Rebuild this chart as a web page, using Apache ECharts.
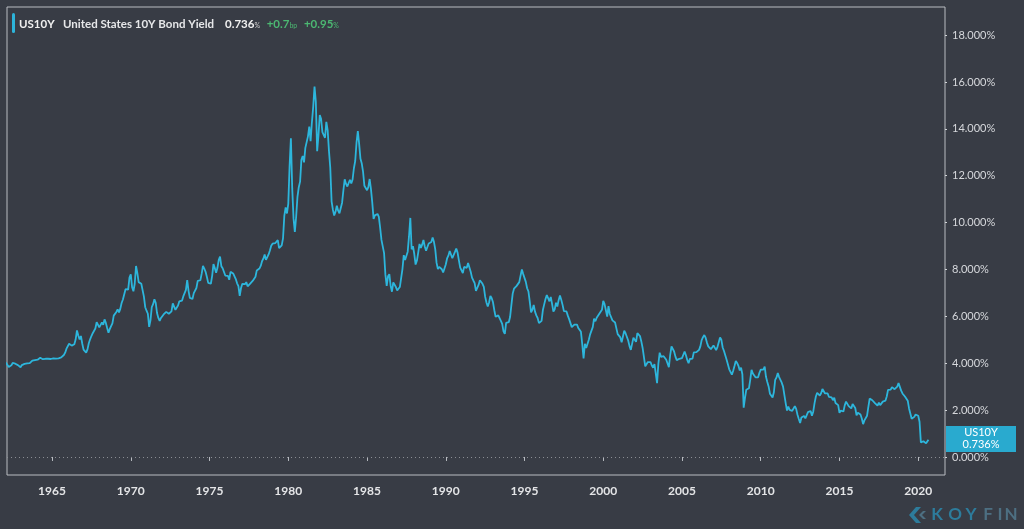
<!DOCTYPE html>
<html>
<head>
<meta charset="utf-8">
<script src="https://cdn.jsdelivr.net/npm/echarts@6/dist/echarts.min.js"></script>
<style>
html,body{margin:0;padding:0;background:#383c45;}
#c{width:1024px;height:529px;}
</style>
</head>
<body>
<div id="c"></div>
<script>
// Monthly US 10Y yields (%), one row per year starting 1962
const startYear = 1962;
const monthlyYield = [
[4.08,4.04,3.93,3.84,3.87,3.91,4.01,3.98,3.98,3.93,3.92,3.86],
[3.83,3.92,3.93,3.97,3.93,3.99,4.02,4.00,4.08,4.11,4.12,4.13],
[4.17,4.15,4.22,4.23,4.20,4.17,4.19,4.19,4.20,4.19,4.15,4.18],
[4.19,4.21,4.21,4.20,4.21,4.21,4.20,4.25,4.29,4.35,4.45,4.62],
[4.61,4.83,4.87,4.75,4.78,4.81,5.02,5.40,5.18,5.01,5.16,4.84],
[4.58,4.63,4.45,4.59,4.85,5.02,5.16,5.28,5.30,5.48,5.75,5.70],
[5.53,5.56,5.74,5.64,5.87,5.72,5.50,5.30,5.46,5.58,5.70,6.03],
[6.04,6.19,6.30,6.17,6.32,6.57,6.72,6.69,7.16,7.10,7.14,7.65],
[7.79,7.24,7.07,7.39,8.15,7.84,7.46,7.53,7.39,7.33,6.84,6.39],
[6.24,6.11,5.55,5.83,6.39,6.52,6.73,6.58,6.14,5.93,5.81,5.93],
[5.95,6.08,6.07,6.19,6.13,6.11,6.11,6.21,6.55,6.48,6.28,6.36],
[6.46,6.64,6.71,6.67,6.85,6.90,7.13,7.55,7.09,6.79,6.73,6.74],
[6.99,6.96,7.21,7.51,7.58,7.54,7.81,8.15,8.04,7.90,7.68,7.43],
[7.50,7.39,7.73,8.23,8.06,7.86,8.06,8.40,8.55,8.14,8.05,8.00],
[7.74,7.79,7.73,7.56,7.90,7.86,7.83,7.77,7.59,7.41,7.29,6.87],
[7.21,7.39,7.46,7.37,7.46,7.28,7.33,7.40,7.34,7.52,7.58,7.69],
[7.96,8.03,8.04,8.15,8.35,8.46,8.64,8.41,8.42,8.64,8.81,9.01],
[9.10,9.10,9.12,9.18,9.25,8.91,8.95,9.03,9.33,10.30,10.65,10.39],
[10.80,12.41,13.60,11.47,10.18,9.60,10.25,11.10,11.51,11.75,12.68,12.84],
[12.57,13.19,13.12,13.68,14.10,13.47,14.28,14.94,15.80,15.15,13.05,13.72],
[14.59,14.43,13.86,13.87,13.62,14.30,13.95,13.06,12.34,10.91,10.55,10.30],
[10.46,10.72,10.51,10.40,10.38,10.85,11.38,11.85,11.65,11.54,11.69,11.83],
[11.67,11.84,12.32,12.63,13.41,13.90,13.36,12.72,12.52,12.16,11.57,11.50],
[11.38,11.51,11.86,11.43,10.85,10.16,10.31,10.33,10.37,10.24,9.78,9.26],
[9.19,8.70,7.78,7.30,7.71,7.80,7.30,7.05,7.45,7.43,7.25,7.11],
[7.08,7.25,7.25,8.02,8.61,8.40,8.45,8.76,9.42,10.20,8.86,8.99],
[8.67,8.21,8.37,8.72,9.09,8.92,9.06,9.26,8.98,8.80,8.96,9.11],
[9.09,9.17,9.36,9.18,8.86,8.28,8.02,8.11,8.19,8.01,7.87,7.84],
[8.21,8.47,8.59,8.79,8.76,8.48,8.47,8.75,8.89,8.72,8.39,8.08],
[8.09,7.85,8.11,8.04,8.07,8.28,8.27,7.90,7.65,7.53,7.42,7.09],
[7.03,7.34,7.54,7.48,7.39,7.26,6.84,6.59,6.42,6.59,6.87,6.77],
[6.60,6.26,5.98,5.97,6.04,5.96,5.81,5.68,5.36,5.25,5.72,5.77],
[5.75,5.97,6.48,6.97,7.18,7.10,7.30,7.24,7.46,7.74,8.00,7.81],
[7.78,7.47,7.20,7.06,6.63,6.17,6.28,6.49,6.20,6.04,5.93,5.71],
[5.65,5.81,6.27,6.51,6.74,6.91,6.87,6.64,6.83,6.53,6.20,6.30],
[6.58,6.42,6.69,6.89,6.71,6.49,6.22,6.30,6.21,6.03,5.88,5.81],
[5.54,5.57,5.65,5.64,5.65,5.50,5.46,5.34,4.81,4.20,4.83,4.65],
[4.72,5.00,5.23,5.18,5.54,5.90,5.79,5.94,5.92,6.11,6.03,6.28],
[6.66,6.52,6.26,5.99,6.44,6.10,6.05,5.83,5.80,5.74,5.72,5.24],
[5.16,5.10,4.89,5.14,5.39,5.28,5.24,4.97,4.73,4.57,4.65,5.09],
[5.04,4.91,5.28,5.21,5.16,4.93,4.65,4.26,3.87,3.94,4.05,4.03],
[4.05,3.90,3.81,3.96,3.57,3.15,3.98,4.45,4.27,4.29,4.30,4.27],
[4.15,4.08,3.83,4.35,4.72,4.73,4.50,4.28,4.13,4.10,4.19,4.23],
[4.22,4.17,4.50,4.34,4.14,4.00,4.18,4.26,4.20,4.46,4.54,4.47],
[4.42,4.57,4.72,4.99,5.11,5.20,5.09,4.88,4.72,4.73,4.60,4.56],
[4.76,4.72,4.56,4.69,4.75,5.10,5.00,4.67,4.52,4.53,4.15,4.10],
[3.74,3.74,3.51,3.68,3.88,4.10,4.01,3.89,3.69,3.81,3.53,2.10],
[2.52,2.87,2.82,2.93,3.29,3.72,3.56,3.59,3.40,3.39,3.40,3.59],
[3.73,3.69,3.73,3.85,3.42,3.20,3.01,2.70,2.65,2.54,2.76,3.29],
[3.39,3.58,3.41,3.46,3.17,3.00,3.00,2.30,1.98,2.15,2.01,1.98],
[1.97,1.97,2.17,2.05,1.80,1.62,1.45,1.68,1.72,1.75,1.65,1.72],
[1.91,1.98,1.96,1.76,1.93,2.30,2.58,2.74,2.81,2.62,2.72,2.90],
[2.86,2.71,2.72,2.71,2.56,2.60,2.54,2.42,2.53,2.30,2.33,2.21],
[1.88,1.98,2.04,1.94,2.20,2.36,2.32,2.17,2.17,2.07,2.26,2.24],
[2.09,1.78,1.89,1.81,1.81,1.64,1.40,1.56,1.63,1.76,2.14,2.49],
[2.43,2.42,2.48,2.30,2.30,2.19,2.32,2.21,2.20,2.36,2.35,2.40],
[2.58,2.86,2.84,2.87,2.98,2.91,2.89,2.89,3.00,3.15,3.12,2.83],
[2.71,2.68,2.57,2.53,2.40,2.07,2.06,1.63,1.70,1.71,1.81,1.86],
[1.76,1.50,0.62,0.66,0.67,0.70,0.58,0.60]
];
const lastPoint = [2020.65, 0.736];
const yTicks = [0,2,4,6,8,10,12,14,16,18];
const xTicks = [1965,1970,1975,1980,1985,1990,1995,2000,2005,2010,2015,2020];
const tickerName = 'US10Y';
const seriesTitle = 'United States 10Y Bond Yield';
const lastValue = '0.736';
const changeBp = '+0.7';
const changePct = '+0.95';

const data = [];
monthlyYield.forEach((row, i) => {
  row.forEach((v, m) => data.push([startYear + i + m / 12, v]));
});
data.push(lastPoint);

const chart = echarts.init(document.getElementById('c'));
const axisColor = '#b9bcc2';
const option = {
  backgroundColor: '#383c45',
  animation: false,
  grid: {left: 7, right: 79, top: 7, bottom: 54, show: true, borderColor: axisColor, borderWidth: 1},
  xAxis: {
    type: 'value', min: 1962.14, max: 2021.7,
    splitLine: {show: false},
    axisLine: {show: false},
    axisTick: {show: true, length: 4, lineStyle: {color: axisColor}, customValues: xTicks},
    axisLabel: {customValues: xTicks, color: '#e4e5e7', fontFamily: 'Lato', fontWeight: 'bold', fontSize: 12, margin: 10, formatter: v => String(Math.round(v))}
  },
  yAxis: {
    type: 'value', position: 'right', min: -0.77, max: 19.2,
    splitLine: {show: false},
    axisLine: {show: false},
    axisTick: {show: true, length: 2, lineStyle: {color: '#d0d2d6', width: 1}, customValues: yTicks},
    axisLabel: {customValues: yTicks, color: '#d6d8dc', fontFamily: 'Lato', fontSize: 11, margin: 7, formatter: v => v.toFixed(3) + '%'}
  },
  series: [{
    type: 'line', data: data, showSymbol: false, symbol: 'none',
    lineStyle: {color: '#2db6dc', width: 1.8},
    clip: true,
    markLine: {
      silent: true, symbol: 'none', label: {show: false},
      lineStyle: {color: '#8a8d93', type: [1, 3], width: 1},
      data: [{yAxis: 0}]
    }
  }]
};
chart.setOption(option);

const yEnd = chart.convertToPixel({yAxisIndex: 0}, 0.77);
chart.setOption({
  graphic: [
    {type: 'rect', shape: {x: 12, y: 13, width: 3, height: 20, r: 1.5}, style: {fill: '#2db4da'}},
    {type: 'text', x: 19, y: 24, style: {text: tickerName, fill: '#f0f0f0', font: 'bold 11.5px Lato', verticalAlign: 'middle'}},
    {type: 'text', x: 63, y: 24, style: {text: seriesTitle, fill: '#e6e7e9', font: 'bold 11.5px Lato', verticalAlign: 'middle'}},
    {type: 'text', x: 225, y: 24, style: {
      text: '{a|' + lastValue + '}{s|%}  {g|' + changeBp + '}{gs|bp}  {g|' + changePct + '}{gs|%}',
      verticalAlign: 'middle',
      rich: {
        a: {fill: '#f0f0f0', font: 'bold 11.5px Lato'},
        s: {fill: '#d0d0d0', font: '7px Lato', padding: [3, 0, 0, 0]},
        g: {fill: '#4cb872', font: 'bold 11.5px Lato'},
        gs: {fill: '#4cb872', font: '7px Lato', padding: [3, 0, 0, 0]}
      }
    }},
    {type: 'rect', shape: {x: 946, y: yEnd - 13, width: 70, height: 26}, style: {fill: '#29aacf'}},
    {type: 'text', x: 981, y: yEnd - 6, style: {text: tickerName, fill: '#ffffff', font: '11px Lato', align: 'center', verticalAlign: 'middle'}},
    {type: 'text', x: 981, y: yEnd + 6, style: {text: lastValue + '%', fill: '#ffffff', font: '11px Lato', align: 'center', verticalAlign: 'middle'}},
    {type: 'polygon', shape: {points: [[916, 507], [921, 507], [914, 515], [921, 523], [916, 523], [909, 515]]}, style: {fill: '#2d7c9c'}},
    {type: 'polygon', shape: {points: [[923, 511], [926, 511], [922, 515], [926, 519], [923, 519], [919, 515]]}, style: {fill: '#4d6f82'}},
    {type: 'text', x: 937, y: 515, style: {text: 'K', fill: '#2d7c9c', font: 'bold 17px Lato', align: 'center', verticalAlign: 'middle'}},
    {type: 'text', x: 955, y: 515, style: {text: 'O', fill: '#2d7c9c', font: 'bold 17px Lato', align: 'center', verticalAlign: 'middle'}},
    {type: 'text', x: 971, y: 515, style: {text: 'Y', fill: '#2d7c9c', font: 'bold 17px Lato', align: 'center', verticalAlign: 'middle'}},
    {type: 'text', x: 988, y: 515, style: {text: 'F', fill: '#4d6f82', font: 'bold 17px Lato', align: 'center', verticalAlign: 'middle'}},
    {type: 'text', x: 1000, y: 515, style: {text: 'I', fill: '#4d6f82', font: 'bold 17px Lato', align: 'center', verticalAlign: 'middle'}},
    {type: 'text', x: 1011, y: 515, style: {text: 'N', fill: '#4d6f82', font: 'bold 17px Lato', align: 'center', verticalAlign: 'middle'}}
  ]
});
</script>
</body>
</html>
